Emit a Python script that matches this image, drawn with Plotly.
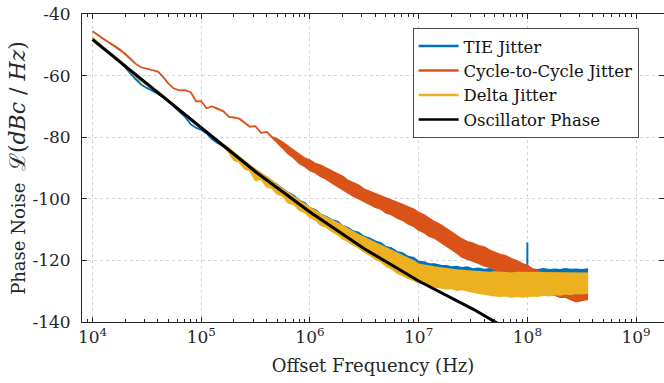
import plotly.graph_objects as go

# ---------------- data ----------------
# frequency grid: R20 mantissas per decade, 1e4 .. 3.55e8 Hz
mantissas = [1.0, 1.12, 1.25, 1.4, 1.6, 1.8, 2.0, 2.24, 2.5, 2.8,
             3.15, 3.55, 4.0, 4.5, 5.0, 5.6, 6.3, 7.1, 8.0, 9.0]
decades = [1e4, 1e5, 1e6, 1e7, 1e8]
freq_hz = [m * d for d in decades for m in mantissas][:92]

# TIE jitter: upper / lower edge of trace (dB)
tie_hi = [-47.8, -49.3, -50.8, -52.3, -53.8, -55.6, -57.3, -59.3, -61.2, -62.9,
          -64.0, -64.9, -65.9, -67.0, -68.4, -70.0, -71.6, -73.4, -75.8, -77.0,
          -77.6, -78.8, -80.6, -81.8, -83.0, -84.6, -86.3, -87.0, -89.0, -90.0,
          -91.6, -92.0, -93.0, -94.3, -95.5, -96.6, -98.0, -99.0, -100.6, -101.4,
          -103.0, -103.6, -105.0, -105.8, -106.9, -107.4, -108.8, -109.4, -110.5, -111.0,
          -112.3, -112.8, -113.8, -114.4, -115.6, -116.0, -117.2, -117.6, -118.8, -119.2,
          -120.4, -120.6, -121.2, -121.2, -121.7, -121.8, -122.2, -122.0, -122.4, -122.2,
          -122.8, -122.6, -123.0, -122.8, -123.1, -122.9, -123.1, -122.9, -123.1, -122.9,
          -123.1, -122.9, -123.1, -122.8, -123.1, -122.9, -123.1, -122.8, -123.0, -122.9,
          -123.1, -122.9]
tie_lo = [-47.8, -49.3, -50.8, -52.3, -53.8, -55.6, -57.3, -59.3, -61.2, -62.9,
          -64.0, -64.9, -65.9, -67.0, -68.4, -70.0, -71.6, -73.4, -75.8, -77.0,
          -77.6, -78.8, -80.6, -81.8, -83.0, -84.6, -86.3, -87.0, -89.0, -90.0,
          -92.4, -93.5, -94.8, -96.2, -97.5, -98.6, -100.2, -101.4, -102.6, -103.8,
          -105.0, -106.0, -107.4, -108.4, -109.6, -110.6, -111.8, -112.8, -113.6, -114.6,
          -115.5, -116.3, -117.0, -117.8, -118.6, -119.4, -120.0, -120.8, -121.5, -122.2,
          -122.8, -123.4, -124.0, -124.5, -124.8, -125.2, -125.5, -125.8, -126.0, -126.0,
          -126.2, -126.4, -126.2, -126.4, -126.2, -126.4, -126.2, -126.4, -126.2, -126.4,
          -126.2, -126.4, -126.2, -126.4, -126.2, -126.4, -126.2, -126.4, -126.2, -126.4,
          -126.2, -126.4]
tie_spike_hz = [1.0e8]
tie_spike_db = [-114.2]

# Cycle-to-cycle jitter
c2c_hi = [-45.6, -46.8, -48.0, -49.2, -50.4, -51.6, -52.9, -54.6, -56.2, -57.3,
          -57.8, -58.2, -58.7, -60.6, -62.6, -64.2, -64.8, -64.7, -65.4, -68.4,
          -68.3, -70.6, -70.0, -70.6, -71.6, -73.4, -73.6, -74.0, -75.2, -76.6,
          -76.4, -78.6, -78.3, -80.0, -80.6, -81.6, -83.0, -84.4, -85.6, -86.9,
          -87.5, -88.6, -89.1, -90.0, -91.1, -92.0, -92.8, -94.1, -94.9, -95.6,
          -96.9, -97.6, -98.3, -99.1, -99.7, -100.5, -101.0, -101.9, -102.7, -103.4,
          -104.5, -105.3, -106.4, -107.5, -108.5, -109.7, -110.9, -111.9, -113.1, -114.0,
          -114.5, -115.3, -115.7, -116.7, -117.3, -118.1, -118.5, -119.5, -120.1, -121.1,
          -121.7, -122.9, -123.5, -124.1, -124.1, -124.4, -124.2, -124.5, -124.4, -124.6,
          -124.4, -124.6]
c2c_lo = [-45.6, -46.8, -48.0, -49.2, -50.4, -51.6, -52.9, -54.6, -56.2, -57.3,
          -57.8, -58.2, -58.7, -60.6, -62.6, -64.2, -64.8, -64.7, -65.4, -68.4,
          -68.3, -70.6, -70.0, -70.6, -71.6, -73.4, -73.6, -74.0, -75.2, -76.6,
          -76.4, -78.6, -78.3, -80.0, -81.8, -83.5, -85.3, -86.7, -88.5, -89.5,
          -90.7, -91.5, -92.7, -93.5, -94.9, -95.9, -97.1, -98.1, -99.1, -99.9,
          -100.9, -101.7, -102.7, -103.3, -104.5, -105.1, -106.1, -106.9, -108.1, -108.9,
          -110.1, -110.9, -112.1, -112.7, -114.1, -115.1, -116.3, -117.5, -118.9, -119.5,
          -120.3, -120.9, -121.7, -122.2, -123.0, -123.3, -123.9, -124.3, -124.7, -124.7,
          -125.1, -127.0, -129.5, -130.5, -131.1, -131.3, -131.9, -131.9, -132.7, -133.4,
          -133.1, -132.6]

# Delta jitter
delta_hi = [-47.6, -49.2, -50.8, -52.3, -53.7, -55.2, -56.7, -58.5, -60.3, -61.8,
            -63.0, -64.2, -65.2, -66.5, -68.0, -69.5, -71.0, -72.6, -74.5, -76.0,
            -77.0, -78.2, -80.0, -81.0, -82.5, -83.6, -85.0, -86.3, -87.7, -89.2,
            -90.4, -91.8, -93.0, -94.3, -95.6, -96.9, -98.2, -99.4, -100.6, -101.8,
            -103.0, -104.0, -105.0, -106.0, -107.0, -107.8, -108.8, -109.8, -110.8, -111.8,
            -112.6, -113.6, -114.4, -115.2, -116.0, -116.8, -117.8, -118.6, -119.4, -120.2,
            -121.3, -121.6, -122.0, -122.2, -122.5, -122.8, -123.0, -123.2, -123.3, -123.4,
            -123.6, -123.8, -123.8, -124.0, -123.8, -124.0, -124.0, -124.2, -124.0, -124.0,
            -124.0, -124.2, -124.0, -124.2, -124.0, -124.2, -124.0, -124.2, -124.0, -124.2,
            -124.0, -124.2]
delta_lo = [-47.6, -49.2, -50.8, -52.3, -53.7, -55.2, -56.7, -58.5, -60.3, -61.8,
            -63.0, -64.2, -65.2, -66.5, -68.0, -69.5, -71.0, -72.6, -74.5, -76.0,
            -77.0, -78.2, -80.0, -81.0, -82.5, -85.0, -87.5, -88.0, -90.2, -90.8,
            -94.0, -93.6, -96.0, -96.6, -98.4, -99.0, -101.3, -101.8, -103.6, -104.4,
            -106.0, -106.8, -108.5, -109.0, -110.6, -111.6, -113.0, -113.8, -115.0, -115.8,
            -117.2, -118.2, -119.6, -120.4, -121.8, -122.6, -124.0, -124.8, -125.8, -126.4,
            -127.2, -127.6, -128.0, -128.6, -128.8, -129.2, -129.0, -129.6, -129.4, -129.8,
            -130.2, -130.6, -131.0, -131.2, -131.4, -131.6, -131.4, -131.8, -131.6, -131.8,
            -131.5, -131.4, -131.6, -131.2, -131.4, -131.0, -131.2, -130.8, -131.0, -130.6,
            -130.8, -130.6]

# Oscillator phase noise
osc_hz = [1e4, 3.16e4, 1e5, 3.16e5, 1e6, 3.16e6, 1e7, 3.16e7, 6e7]
osc_db = [-48.3, -62.6, -77.0, -91.2, -104.3, -116.2, -126.7, -135.8, -141.5]

series_names = ["TIE Jitter", "Cycle-to-Cycle Jitter", "Delta Jitter", "Oscillator Phase"]
series_colors = ["#0072BD", "#D95319", "#EDB120", "#000000"]

x_tick_vals = [1e4, 1e5, 1e6, 1e7, 1e8, 1e9]
x_tick_text = ["10<sup>4</sup>", "10<sup>5</sup>", "10<sup>6</sup>",
               "10<sup>7</sup>", "10<sup>8</sup>", "10<sup>9</sup>"]
y_tick_vals = [-140, -120, -100, -80, -60, -40]
y_tick_text = ["-140", "-120", "-100", "-80", "-60", "-40"]

# ---------------- figure ----------------
FONT = "DejaVu Serif"
AX = "#262626"
fig = go.Figure()


def band(hi, lo, color):
    fig.add_trace(go.Scatter(
        x=freq_hz + freq_hz[::-1], y=hi + lo[::-1],
        mode="lines", fill="toself", fillcolor=color,
        line=dict(color=color, width=1.8), showlegend=False, hoverinfo="skip"))


# TIE (with spike)
band(tie_hi, tie_lo, series_colors[0])
spike_base = tie_hi[freq_hz.index(min(freq_hz, key=lambda f: abs(f - tie_spike_hz[0])))]
fig.add_trace(go.Scatter(x=[tie_spike_hz[0], tie_spike_hz[0]], y=[spike_base, tie_spike_db[0]],
                         mode="lines", line=dict(color=series_colors[0], width=2),
                         showlegend=False, hoverinfo="skip"))
band(c2c_hi, c2c_lo, series_colors[1])
band(delta_hi, delta_lo, series_colors[2])
fig.add_trace(go.Scatter(x=osc_hz, y=osc_db, mode="lines",
                         line=dict(color=series_colors[3], width=3),
                         showlegend=False, hoverinfo="skip"))

# legend entries
for name, col in zip(series_names, series_colors):
    fig.add_trace(go.Scatter(x=[None], y=[None], mode="lines", name=name,
                             line=dict(color=col, width=2.5)))

fig.update_layout(
    width=664, height=383,
    margin=dict(l=82, r=0, t=14, b=61),
    paper_bgcolor="white", plot_bgcolor="white",
    font=dict(family=FONT, color=AX, size=17),
    legend=dict(x=0.568, y=0.955, xanchor="left", yanchor="top",
                bgcolor="white", bordercolor="#4a4a4a", borderwidth=1,
                font=dict(family=FONT, size=16.5, color="#111111"),
                itemwidth=40, tracegroupgap=0),
    showlegend=True,
)

fig.update_xaxes(
    type="log", range=[3.903, 9.257],
    tickmode="array", tickvals=x_tick_vals, ticktext=x_tick_text,
    ticks="inside", ticklen=5, tickcolor=AX, tickwidth=1,
    showline=True, linecolor=AX, linewidth=1, mirror="allticks",
    showgrid=True, gridcolor="#d4d4d4", griddash="dot", gridwidth=1,
    zeroline=False,
    minor=dict(ticks="inside", ticklen=3, tickcolor=AX, showgrid=False,
               tickvals=[m * d for d in [1e3, 1e4, 1e5, 1e6, 1e7, 1e8, 1e9]
                         for m in [2, 3, 4, 5, 6, 7, 8, 9]]),
    tickfont=dict(size=17, family=FONT, color=AX),
    title=dict(text="Offset Frequency (Hz)", font=dict(size=18, family=FONT, color=AX), standoff=12),
)
fig.update_yaxes(
    range=[-140, -40],
    tickmode="array", tickvals=y_tick_vals, ticktext=y_tick_text,
    ticks="inside", ticklen=5, tickcolor=AX, tickwidth=1,
    showline=True, linecolor=AX, linewidth=1, mirror="allticks",
    showgrid=True, gridcolor="#d4d4d4", griddash="dot", gridwidth=1,
    zeroline=False, ticklabelstandoff=7,
    tickfont=dict(size=17, family=FONT, color=AX),
    title=dict(text="Phase Noise  <span style='font-size:22px'>ℒ(<i>dBc</i> / <i>Hz</i>)</span>",
               font=dict(size=18, family=FONT, color=AX), standoff=2),
)

fig.write_html("out.html")
